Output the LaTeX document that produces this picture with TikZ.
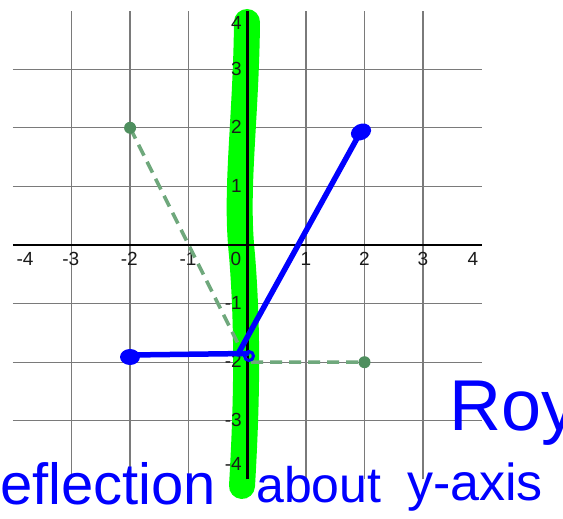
\documentclass[tikz,border=0pt]{standalone}
\usepackage{fontspec}
\setmainfont{Liberation Sans}
\usetikzlibrary{shapes.geometric}
\definecolor{hlgreen}{HTML}{00FF00}
\definecolor{dashgreen}{HTML}{6FA87C}
\definecolor{dotgreen}{HTML}{4F8F5F}
\definecolor{gridgray}{HTML}{7A7A7A}
\definecolor{labelgray}{HTML}{1A1A1A}
\newcommand{\ticksize}{\fontsize{19}{19}\selectfont}
\begin{document}
\begin{tikzpicture}[x=1pt,y=-1pt,
  gridline/.style={draw=gridgray,line width=1.3pt},
  axisline/.style={draw=black,line width=2.4pt},
  ticklabel/.style={font=\ticksize,inner sep=0pt,text=labelgray},
  highlight/.style={draw=hlgreen,line width=26pt,line cap=round},
  dashedseg/.style={draw=dashgreen,line width=3.5pt,dash pattern=on 12pt off 7pt},
  gdot/.style={circle,fill=dotgreen,inner sep=0pt,minimum size=12pt},
  pen/.style={draw=blue,line width=5.5pt,line cap=round,line join=round},
  blob/.style={ellipse,fill=blue,inner sep=0pt},
  hand/.style={text=blue,inner sep=0pt,anchor=base west}]
\useasboundingbox (0,0) rectangle (563,519);
\fill[white] (0,0) rectangle (563,519);
% grid
\begin{scope}[shift={(247.3,245)},x=58.6pt,y=58.6pt]
  \foreach \k in {-3,-2,-1,1,2,3} {
    \draw[gridline] (\k,-4) -- (\k,4);
    \draw[gridline] (-4,\k) -- (4,\k);
  }
\end{scope}
% highlighter stroke
\coordinate (h1) at (247,22);
\coordinate (h2) at (242,255);
\coordinate (h3) at (242,486);
\draw[highlight] (h1) .. controls (246,120) and (235,190) .. (h2)
  .. controls (248,330) and (247,400) .. (h3);
% axes
\begin{scope}[shift={(247.3,245)},x=58.6pt,y=58.6pt]
  \coordinate (xl) at (-4,0);
  \coordinate (xr) at (4,0);
  \coordinate (yb) at (0,-4);
  \coordinate (yt) at (0,4);
  \draw[axisline] (xl) -- (xr);
  \draw[axisline] (yb) -- (yt);
\end{scope}
% tick labels
\node[ticklabel] (lxm4) at (25,259) {-4};
\node[ticklabel] (lxm3) at (70.7,259) {-3};
\node[ticklabel] (lxm2) at (129.3,259) {-2};
\node[ticklabel] (lxm1) at (188,259) {-1};
\node[ticklabel] (lx0) at (236,259) {0};
\node[ticklabel] (lx1) at (306,259) {1};
\node[ticklabel] (lx2) at (364.5,259) {2};
\node[ticklabel] (lx3) at (423,259) {3};
\node[ticklabel] (lx4) at (473,259) {4};
\node[ticklabel,anchor=east] (ly4) at (242,23) {4};
\node[ticklabel,anchor=east] (ly3) at (242,69) {3};
\node[ticklabel,anchor=east] (ly2) at (242,127.3) {2};
\node[ticklabel,anchor=east] (ly1) at (242,186) {1};
\node[ticklabel,anchor=east] (lym1) at (242,303) {-1};
\node[ticklabel,anchor=east] (lym2) at (242,361) {-2};
\node[ticklabel,anchor=east] (lym3) at (242,420) {-3};
\node[ticklabel,anchor=east] (lym4) at (242,464) {-4};
% original figure (dashed green)
\begin{scope}[shift={(247.3,245)},x=58.6pt,y=58.6pt]
  \coordinate (P) at (-2,2);
  \coordinate (Q) at (0,-2);
  \coordinate (R) at (2,-2);
  \draw[dashedseg] (P) -- (Q) -- (R);
  \node[gdot] (dP) at (P) {};
  \node[gdot] (dR) at (R) {};
\end{scope}
% reflected figure (blue pen)
\coordinate (b1) at (131,355);
\coordinate (b2) at (247,353.5);
\coordinate (b3) at (238,354);
\coordinate (b4) at (360,133);
\draw[pen] (b1) -- (b2);
\draw[pen] (b3) -- (b4);
\node[blob,minimum width=20pt,minimum height=16pt] (blobL) at (130,357) {};
\node[blob,minimum width=21pt,minimum height=16pt,rotate=25] (blobU) at (361,132) {};
\draw[draw=blue,line width=3pt] (249,356) circle (4.5pt);
% handwriting
\node[hand,font=\fontsize{72}{72}\selectfont] (roy) at (449,430) {Roy};
\node[hand,font=\fontsize{58}{58}\selectfont] (w1) at (0,504) {eflection};
\node[hand,font=\fontsize{50}{50}\selectfont] (w2) at (256,502) {about};
\node[hand,font=\fontsize{52}{52}\selectfont] (w3) at (407,500) {y-axis};
\end{tikzpicture}
\end{document}
